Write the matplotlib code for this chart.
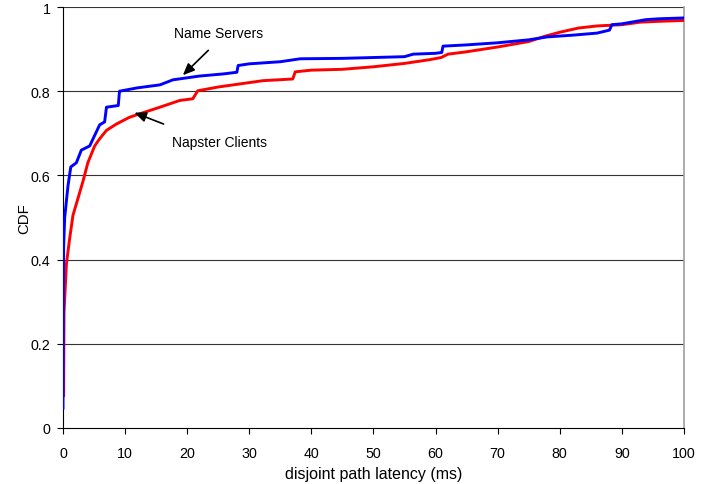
import matplotlib
matplotlib.use("Agg")
import matplotlib.pyplot as plt
from matplotlib.ticker import FuncFormatter

plt.rcParams['font.family'] = ['Liberation Sans', 'DejaVu Sans']

# CDF of disjoint path latency (ms)
ns_latency = [0.0, 0.05, 0.1, 0.27, 0.8, 1.25, 2.15, 2.95, 4.3, 5.1, 5.9, 6.7, 7.0, 8.9, 9.1,
              12.0, 15.6, 17.7, 22.0, 25.8, 28.0, 28.2, 30.0, 35.0, 38.2, 45.0, 50.0, 55.0,
              56.4, 60.0, 61.0, 61.2, 65.0, 70.0, 75.0, 78.0, 82.0, 86.0, 88.0, 88.4, 90.0,
              93.9, 96.0, 100.0]
ns_cdf = [0.047, 0.30, 0.43, 0.50, 0.575, 0.62, 0.63, 0.66, 0.67, 0.695, 0.72, 0.727, 0.762,
          0.766, 0.80, 0.808, 0.815, 0.827, 0.836, 0.841, 0.845, 0.861, 0.865, 0.870, 0.877,
          0.878, 0.880, 0.882, 0.888, 0.890, 0.892, 0.907, 0.910, 0.915, 0.922, 0.929, 0.933,
          0.938, 0.945, 0.958, 0.960, 0.970, 0.972, 0.974]

napster_latency = [0.1, 0.16, 0.55, 1.07, 1.6, 2.4, 3.2, 4.0, 5.1, 5.9, 7.0, 8.6, 10.7, 12.3,
                   15.6, 18.8, 20.9, 21.7, 25.0, 32.2, 37.0, 37.4, 40.0, 45.0, 50.0, 55.0,
                   59.1, 60.9, 62.0, 64.7, 70.0, 75.0, 77.5, 80.0, 83.0, 86.0, 90.0, 93.0,
                   96.0, 100.0]
napster_cdf = [0.077, 0.275, 0.39, 0.45, 0.505, 0.545, 0.585, 0.63, 0.67, 0.687, 0.707, 0.722,
               0.738, 0.746, 0.762, 0.778, 0.782, 0.801, 0.810, 0.825, 0.829, 0.846, 0.850,
               0.852, 0.858, 0.866, 0.875, 0.880, 0.888, 0.893, 0.905, 0.918, 0.930, 0.940,
               0.950, 0.955, 0.958, 0.964, 0.966, 0.968]

x_ticks = [0, 10, 20, 30, 40, 50, 60, 70, 80, 90, 100]
y_ticks = [0, 0.2, 0.4, 0.6, 0.8, 1.0]

fig = plt.figure(figsize=(7.08, 4.85), dpi=100)
ax = fig.add_axes([0.089, 0.1155, 0.877, 0.868])

for y in y_ticks[1:]:
    ax.axhline(y, color='#333333', lw=0.8, zorder=1)

ax.plot(napster_latency, napster_cdf, color='#ff0000', lw=2.1, zorder=3)
ax.plot(ns_latency, ns_cdf, color='#0000ff', lw=2.1, zorder=4)

ax.set_xlim(0, 100)
ax.set_ylim(0, 1)
ax.set_xticks(x_ticks)
ax.set_yticks(y_ticks)
ax.yaxis.set_major_formatter(FuncFormatter(lambda v, p: f"{v:g}"))
ax.tick_params(direction='out', length=4, width=0.8, labelsize=10.3, colors='black', pad=5)
ax.tick_params(axis='x', pad=9)

ax.spines['top'].set_visible(False)
ax.spines['right'].set_color('#a0a0a0')
ax.spines['right'].set_linewidth(1.2)
ax.spines['left'].set_color('black')
ax.spines['bottom'].set_color('black')

ax.set_xlabel('disjoint path latency (ms)', fontsize=11.5, labelpad=4)
ax.set_ylabel('CDF', fontsize=10.8, labelpad=0)

arrow = dict(arrowstyle='-|>,head_length=0.7,head_width=0.3', color='black', lw=1.2,
             shrinkA=0, shrinkB=0)
ax.annotate('', xy=(19.3, 0.838), xytext=(23.4, 0.897), arrowprops=arrow, zorder=5)
ax.text(25.0, 0.938, 'Name Servers', fontsize=10, ha='center', va='center')
ax.annotate('', xy=(11.5, 0.749), xytext=(16.2, 0.722), arrowprops=arrow, zorder=5)
ax.text(17.5, 0.679, 'Napster Clients', fontsize=10, ha='left', va='center')

fig.savefig('out.png', dpi=100)
